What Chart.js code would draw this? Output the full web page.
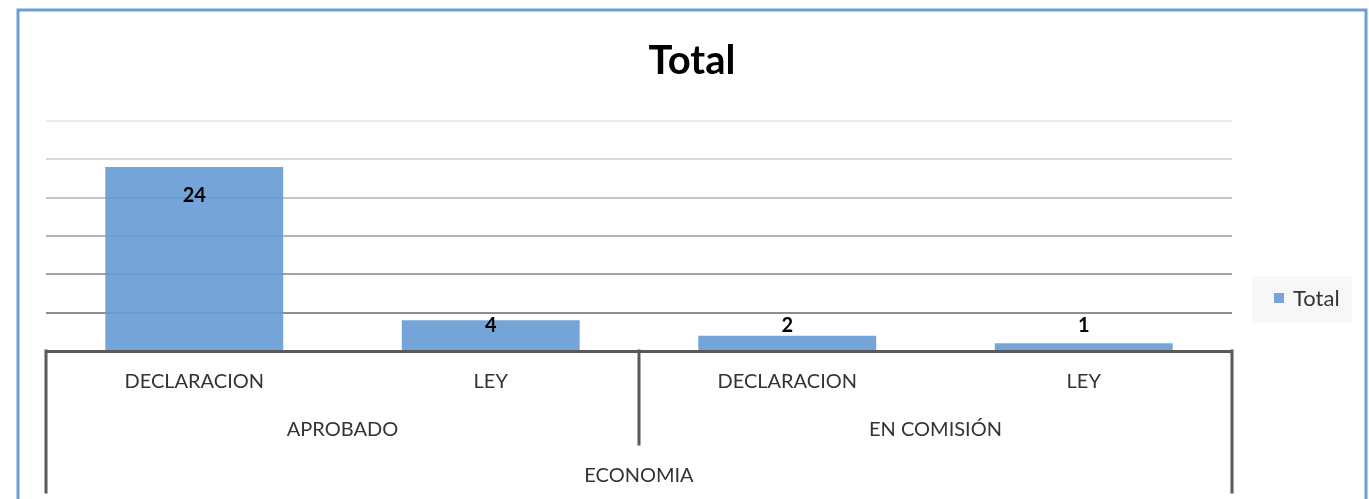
<!DOCTYPE html>
<html>
<head>
<meta charset="utf-8">
<script src="https://cdn.jsdelivr.net/npm/chart.js@4.4.0/dist/chart.umd.min.js"></script>
<style>
  body { margin: 0; background: #fff; }
  canvas { display: block; }
</style>
</head>
<body>
<canvas id="chart" width="1369" height="499"></canvas>
<script>
// data
const tipos = ["DECLARACION", "LEY", "DECLARACION", "LEY"];
const estados = ["APROBADO", "EN COMISIÓN"];
const estadoSpan = [2, 2];
const comision = "ECONOMIA";
const totales = [24, 4, 2, 1];
const serieName = "Total";
const titulo = "Total";

const barColor = "rgba(102, 155, 212, 0.9)";
const axisColor = "#595959";
const textColor = "#333333";
const gridColors = ["rgba(0,0,0,0)", "#8e8e8e", "#a3a3a3", "#b4b4b4", "#c6c6c6", "#d9d9d9", "#ebebeb"];

const extras = {
    id: 'extras',
    beforeDraw(chart) {
        const ctx = chart.ctx;
        ctx.save();
        ctx.strokeStyle = "#6a9fd6";
        ctx.lineWidth = 3;
        ctx.strokeRect(18, 10, 1348, 600);
        ctx.restore();
    },
    afterDraw(chart) {
        const ctx = chart.ctx;
        const area = chart.chartArea;
        const x = chart.scales.x;
        const bottom = area.bottom;
        ctx.save();

        // title, centred on the whole frame
        ctx.font = "bold 40px Lato";
        ctx.fillStyle = "#000";
        ctx.textAlign = "center";
        ctx.textBaseline = "middle";
        ctx.fillText(titulo, 692, 61);

        // value labels
        const meta = chart.getDatasetMeta(0);
        ctx.font = "bold 20px Lato";
        meta.data.forEach((bar, i) => {
            const y = Math.min(bar.y + 29, bottom - 25);
            ctx.fillText(String(totales[i]), bar.x, y);
        });

        // hierarchy separators
        const step = (area.right - area.left) / tipos.length;
        ctx.strokeStyle = axisColor;
        ctx.lineWidth = 3;
        ctx.lineCap = "square";
        ctx.beginPath();
        ctx.moveTo(area.left, bottom);
        ctx.lineTo(area.left, bottom + 141);
        ctx.moveTo(area.right, bottom);
        ctx.lineTo(area.right, bottom + 141);
        let acc = 0;
        estadoSpan.forEach((n, i) => {
            acc += n;
            if (i < estadoSpan.length - 1) {
                const sx = area.left + acc * step;
                ctx.moveTo(sx, bottom);
                ctx.lineTo(sx, bottom + 93);
            }
        });
        ctx.stroke();

        // category labels
        ctx.font = "20px Lato";
        ctx.fillStyle = textColor;
        tipos.forEach((t, i) => {
            ctx.fillText(t, x.getPixelForValue(i), bottom + 31);
        });
        acc = 0;
        estados.forEach((e, i) => {
            const cx = area.left + (acc + estadoSpan[i] / 2) * step;
            ctx.fillText(e, cx, bottom + 79);
            acc += estadoSpan[i];
        });
        ctx.fillText(comision, (area.left + area.right) / 2, bottom + 125);

        // legend
        ctx.fillStyle = "#f7f7f7";
        ctx.fillRect(1252, 276, 100, 47);
        ctx.fillStyle = barColor;
        ctx.fillRect(1274, 293, 10, 10);
        ctx.fillStyle = textColor;
        ctx.textAlign = "left";
        ctx.font = "22px Lato";
        ctx.fillText(chart.data.datasets[0].label, 1293, 299);

        ctx.restore();
    }
};

new Chart(document.getElementById('chart'), {
    type: 'bar',
    data: {
        labels: tipos,
        datasets: [{
            label: serieName,
            data: totales,
            backgroundColor: barColor,
            borderWidth: 0,
            barPercentage: 0.6,
            categoryPercentage: 1
        }]
    },
    options: {
        responsive: false,
        animation: false,
        layout: {
            padding: { left: 46, right: 137, bottom: 148, top: 121 }
        },
        scales: {
            x: {
                ticks: { display: false },
                grid: { display: false, drawTicks: false },
                border: { display: true, color: axisColor, width: 3 }
            },
            y: {
                min: 0,
                max: 30,
                ticks: { display: false, stepSize: 5 },
                grid: {
                    drawTicks: false,
                    lineWidth: 2,
                    color: (c) => gridColors[c.index] || "#ddd"
                },
                border: { display: false }
            }
        },
        plugins: {
            legend: { display: false },
            tooltip: { enabled: false },
            title: { display: false }
        }
    },
    plugins: [extras]
});
</script>
</body>
</html>
